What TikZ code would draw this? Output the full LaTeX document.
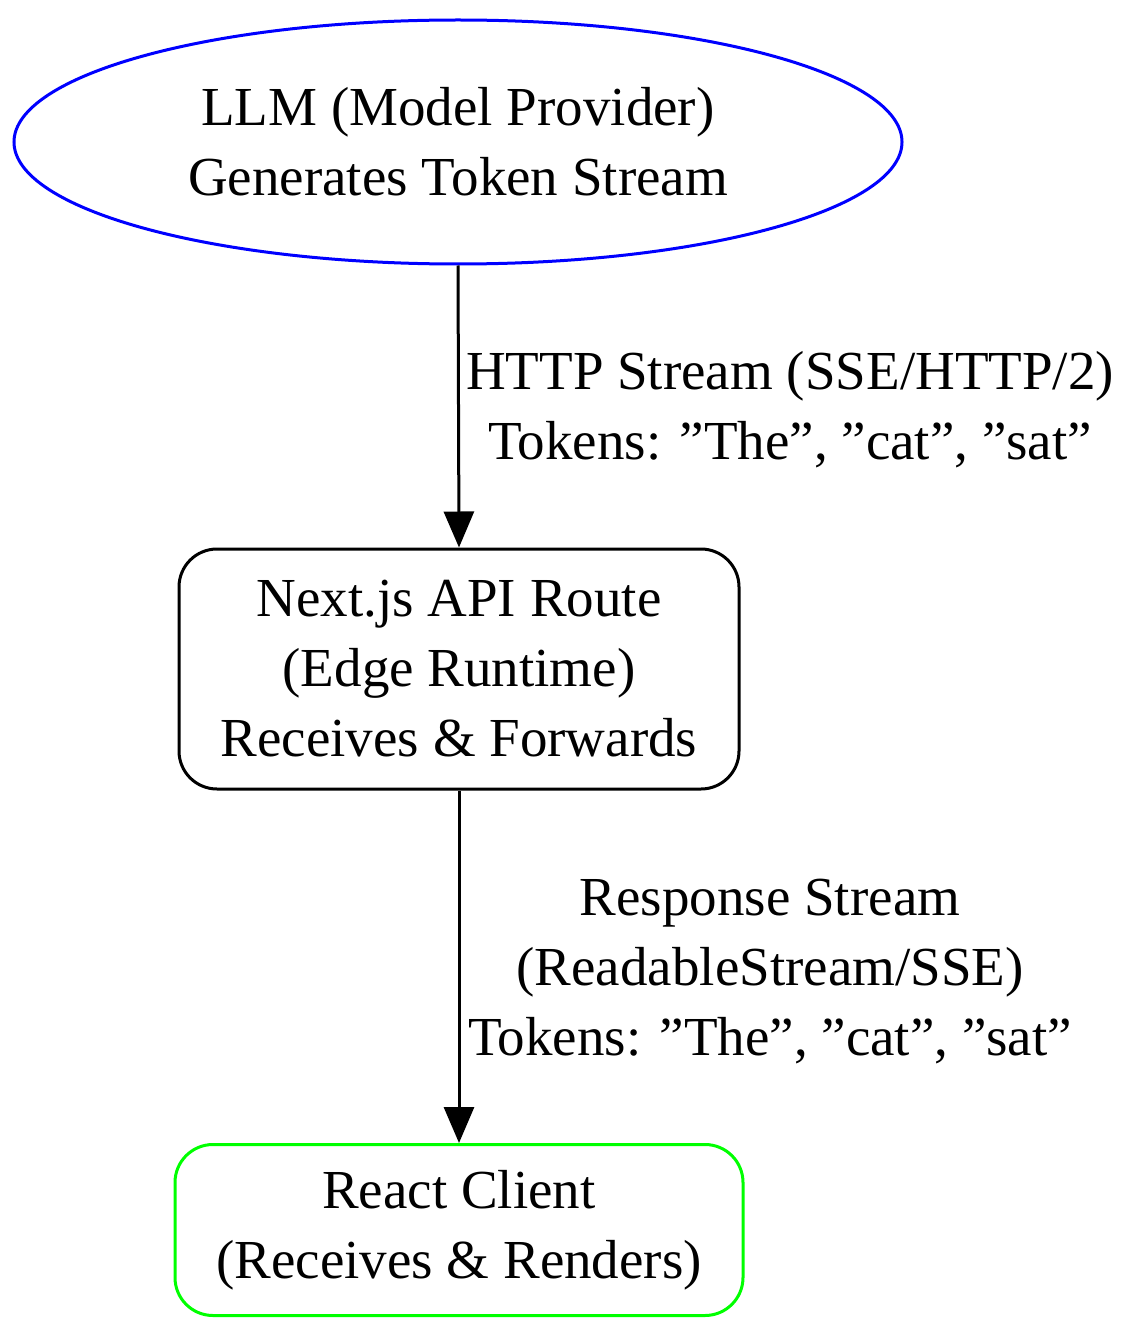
\documentclass[tikz,border=0pt]{standalone}
\usepackage{fontspec}
\setmainfont{Liberation Serif}
\usetikzlibrary{shapes.geometric,arrows.meta}
\newcommand{\qq}{\symbol{34}}
\begin{document}
\begin{tikzpicture}[x=1pt,y=-1pt,
  lbl/.style={font=\fontsize{55}{70}\selectfont, align=center, inner sep=0},
  box/.style={draw, line width=3pt, rounded corners=38pt},
  arr/.style={line width=3pt, -{Triangle[length=36pt,width=30pt]}}]
\useasboundingbox (0,0) rectangle (1142,1329);
\node[ellipse, draw=blue, line width=3pt, minimum width=888pt, minimum height=244pt, lbl] (llm) at (458,142) {LLM (Model Provider)\\Generates Token Stream};
\node[box, minimum width=560pt, minimum height=240pt, lbl] (api) at (459,669) {Next.js API Route\\(Edge Runtime)\\Receives \& Forwards};
\node[box, draw={rgb,255:red,0;green,255;blue,0}, minimum width=568pt, minimum height=171pt, lbl] (rc) at (459,1230) {React Client\\(Receives \& Renders)};
\draw[arr] (llm.south) -- (api.north);
\draw[arr] (api.south) -- (rc.north);
\node[lbl] (l1) at (790,410) {HTTP Stream (SSE/HTTP/2)\\Tokens: \qq The\qq, \qq cat\qq, \qq sat\qq};
\node[lbl] (l2) at (770,972) {Response Stream\\(ReadableStream/SSE)\\Tokens: \qq The\qq, \qq cat\qq, \qq sat\qq};
\end{tikzpicture}
\end{document}
